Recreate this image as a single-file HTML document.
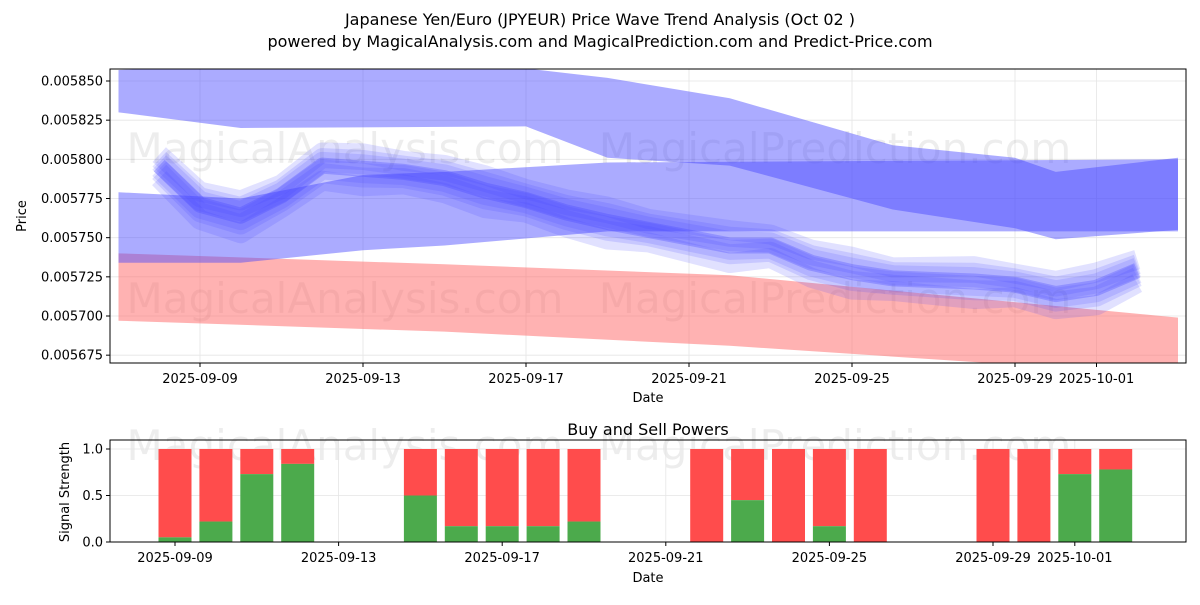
<!DOCTYPE html>
<html><head><meta charset="utf-8"><style>
body{margin:0;background:#fff;font-family:"Liberation Sans","DejaVu Sans",sans-serif;}
svg text{font-family:"DejaVu Sans","Liberation Sans",sans-serif;}
</style></head><body>
<svg id="c" width="1200" height="600" xmlns="http://www.w3.org/2000/svg">
<rect width="1200" height="600" fill="#fff"/>
<text x="600" y="25" font-size="16" text-anchor="middle">Japanese Yen/Euro (JPYEUR) Price Wave Trend Analysis (Oct 02 )</text>
<text x="600" y="47" font-size="16" text-anchor="middle">powered by MagicalAnalysis.com and MagicalPrediction.com and Predict-Price.com</text>
<g id="topPanel"></g>
<g id="botPanel"></g>
</svg>
<script>
const priceTicks=[0.005675,0.0057,0.005725,0.00575,0.005775,0.0058,0.005825,0.00585];
const dateTicks=['2025-09-09','2025-09-13','2025-09-17','2025-09-21','2025-09-25','2025-09-29','2025-10-01'];
const upperDates=['2025-09-07','2025-09-10','2025-09-17','2025-09-19','2025-09-22','2025-09-26','2025-09-29','2025-09-30','2025-10-03'];
const upperTop=[0.005857,0.00586,0.005858,0.005852,0.005839,0.005809,0.005801,0.005792,0.005801];
const upperBot=[0.00583,0.00582,0.005821,0.005801,0.005796,0.005768,0.005756,0.005749,0.005755];
const midDates=['2025-09-07','2025-09-10','2025-09-13','2025-09-15','2025-09-19','2025-10-03'];
const midTop=[0.005779,0.005775,0.00579,0.005792,0.005798,0.0058];
const midBot=[0.005734,0.005734,0.005742,0.005745,0.005754,0.005754];
const redDates=['2025-09-07','2025-09-15','2025-09-22','2025-10-03'];
const redTop=[0.00574,0.005733,0.005726,0.005699];
const redBot=[0.005697,0.00569,0.005681,0.005662];
const waveDates=['2025-09-08','2025-09-09','2025-09-10','2025-09-11','2025-09-12','2025-09-13','2025-09-14','2025-09-15','2025-09-16','2025-09-17','2025-09-18','2025-09-19','2025-09-20','2025-09-21','2025-09-22','2025-09-23','2025-09-24','2025-09-25','2025-09-26','2025-09-27','2025-09-28','2025-09-29','2025-09-30','2025-10-01','2025-10-02'];
const waveVals=[0.005796,0.005771,0.005764,0.005777,0.005796,0.005794,0.005792,0.005788,0.00578,0.005774,0.005766,0.00576,0.005755,0.00575,0.005745,0.005745,0.005734,0.005728,0.005724,0.005723,0.005722,0.00572,0.005714,0.005718,0.005729];
const waveShifts=[-0.000008,-0.000004,0,0.000004,0.000007,-0.000002,0.000002];
const sigDates=['2025-09-09','2025-09-10','2025-09-11','2025-09-12','2025-09-15','2025-09-16','2025-09-17','2025-09-18','2025-09-19','2025-09-22','2025-09-23','2025-09-24','2025-09-25','2025-09-26','2025-09-29','2025-09-30','2025-10-01','2025-10-02'];
const buyVals=[0.05,0.22,0.73,0.84,0.5,0.17,0.17,0.17,0.22,0,0.45,0,0.17,0,0,0,0.73,0.78];
const sigTicks=[0,0.5,1.0];

const NS='http://www.w3.org/2000/svg';
function mk(p,t,a){const e=document.createElementNS(NS,t);for(const k in a)e.setAttribute(k,a[k]);p.appendChild(e);return e;}
const day=s=>(Date.parse(s+'T00:00:00Z')-Date.parse('2025-09-09T00:00:00Z'))/86400000;
const L=110,R=1186,T1=69,B1=363,T2=440,B2=542;
const xT=s=>200+day(s)*40.75;
const yT=v=>81+(0.00585-v)/0.00015*235;
const xB=s=>175+day(s)*40.9;
const yB=v=>542-v*93;
const topG=document.getElementById('topPanel'),botG=document.getElementById('botPanel');
const cp=mk(topG,'clipPath',{id:'cp1'});mk(cp,'rect',{x:L,y:T1,width:R-L,height:B1-T1});
priceTicks.forEach(v=>{const y=yT(v);
 mk(topG,'line',{x1:L,x2:R,y1:y,y2:y,stroke:'#e5e5e5','stroke-width':0.8});
 mk(topG,'line',{x1:L-4,x2:L,y1:y,y2:y,stroke:'#000'});
 const t=mk(topG,'text',{x:L-7,y:y+4.5,'font-size':13,'text-anchor':'end'});t.textContent=v.toFixed(6);
 
 });
dateTicks.forEach(d=>{const x=xT(d);
 mk(topG,'line',{x1:x,x2:x,y1:T1,y2:B1,stroke:'#e5e5e5','stroke-width':0.8});
 mk(topG,'line',{x1:x,x2:x,y1:B1,y2:B1+4,stroke:'#000'});
 const t=mk(topG,'text',{x:x,y:B1+20,'font-size':13,'text-anchor':'middle'});t.textContent=d;
 
 });
[[345,163],[835,163],[345,313],[835,313]].forEach((p,i)=>{const t=mk(topG,'text',{x:p[0],y:p[1],'font-size':42,'text-anchor':'middle',fill:'#000','fill-opacity':0.07});t.textContent=i%2?'MagicalPrediction.com':'MagicalAnalysis.com';
 
 });
const g1=mk(topG,'g',{'clip-path':'url(#cp1)'});
function band(dates,tp,bt,fill,op,name){let pts=dates.map((d,i)=>xT(d)+','+yT(tp[i]));
 for(let i=dates.length-1;i>=0;i--)pts.push(xT(dates[i])+','+yT(bt[i]));
 const p=mk(g1,'polygon',{points:pts.join(' '),fill:fill,'fill-opacity':op});
 
 }
band(redDates,redTop,redBot,'#ff6666',0.5,'red-band');
band(upperDates,upperTop,upperBot,'#4444ff',0.45,'upper-blue-band');
band(midDates,midTop,midBot,'#4444ff',0.45,'middle-blue-band');
waveShifts.forEach((s,k)=>{const pts=waveDates.map((d,i)=>xT(d)+','+yT(waveVals[i]+s*(1+(i%3)*0.2)));
 const p=mk(g1,'polyline',{points:pts.join(' '),fill:'none',stroke:'#4444ff','stroke-opacity':k==2?0.3:0.16,'stroke-width':k==2?16:20,'stroke-linejoin':'round'});
 
 });
mk(topG,'rect',{x:L,y:T1,width:R-L,height:B1-T1,fill:'none',stroke:'#000','stroke-width':1});
let t=mk(topG,'text',{x:648,y:402,'font-size':13,'text-anchor':'middle'});t.textContent='Date';


t=mk(topG,'text',{x:26,y:216,'font-size':13,'text-anchor':'middle',transform:'rotate(-90 26 216)'});t.textContent='Price';


t=mk(botG,'text',{x:648,y:435,'font-size':16,'text-anchor':'middle'});t.textContent='Buy and Sell Powers';


[[345,460],[835,460]].forEach((p,i)=>{const w=mk(botG,'text',{x:p[0],y:p[1],'font-size':42,'text-anchor':'middle','fill-opacity':0.07});w.textContent=i?'MagicalPrediction.com':'MagicalAnalysis.com';
 
 });
sigTicks.forEach(v=>{const y=yB(v);mk(botG,'line',{x1:L,x2:R,y1:y,y2:y,stroke:'#e5e5e5','stroke-width':0.8});mk(botG,'line',{x1:L-4,x2:L,y1:y,y2:y,stroke:'#000'});
 const s=mk(botG,'text',{x:L-7,y:y+4.5,'font-size':13,'text-anchor':'end'});s.textContent=v.toFixed(1);
 
 });
dateTicks.forEach(d=>{const x=xB(d);mk(botG,'line',{x1:x,x2:x,y1:T2,y2:B2,stroke:'#e5e5e5','stroke-width':0.8});mk(botG,'line',{x1:x,x2:x,y1:B2,y2:B2+4,stroke:'#000'});
 const s=mk(botG,'text',{x:x,y:B2+20,'font-size':13,'text-anchor':'middle'});s.textContent=d;
 
 });
sigDates.forEach((d,i)=>{const x=xB(d)-16.5;
 const r=mk(botG,'rect',{x:x,y:yB(1),width:33,height:yB(buyVals[i])-yB(1),fill:'#ff4c4c'});
 
 
 const g=mk(botG,'rect',{x:x,y:yB(buyVals[i]),width:33,height:yB(0)-yB(buyVals[i]),fill:'#4caa4c'});
 
 });
mk(botG,'rect',{x:L,y:T2,width:R-L,height:B2-T2,fill:'none',stroke:'#000','stroke-width':1});
t=mk(botG,'text',{x:648,y:582,'font-size':13,'text-anchor':'middle'});t.textContent='Date';


t=mk(botG,'text',{x:69,y:492,'font-size':13,'text-anchor':'middle',transform:'rotate(-90 69 492)'});t.textContent='Signal Strength';


</script>
</body></html>
